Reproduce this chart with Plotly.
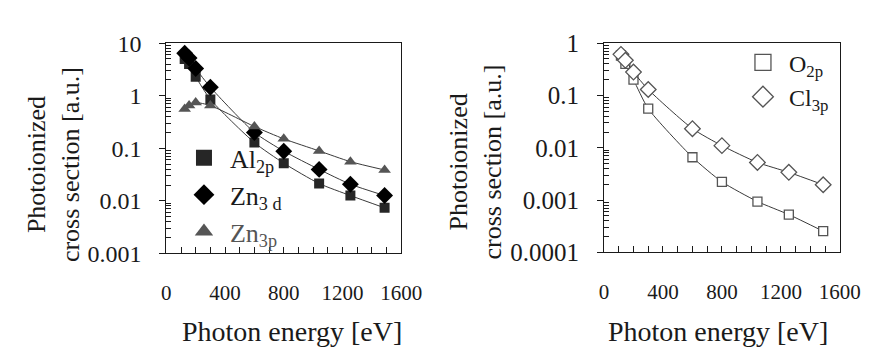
import plotly.graph_objects as go

# ---- data ----
energy_left = [125, 155, 200, 300, 600, 800, 1041, 1254, 1487]
al_2p = [5.0, 4.0, 2.3, 0.85, 0.128, 0.052, 0.0213, 0.0126, 0.00735]
zn_3d = [6.4, 5.2, 3.3, 1.45, 0.2, 0.088, 0.0396, 0.0207, 0.0126]
zn_3p = [0.56, 0.65, 0.74, 0.65, 0.259, 0.151, 0.089, 0.0556, 0.0386]

energy_right = [115, 145, 200, 300, 600, 800, 1041, 1254, 1487]
o_2p = [0.58, 0.40, 0.20, 0.056, 0.0066, 0.00224, 0.00094, 0.00053, 0.000255]
cl_3p = [0.61, 0.47, 0.28, 0.13, 0.0232, 0.011, 0.00525, 0.0034, 0.00197]

x_ticks = [0, 400, 800, 1200, 1600]
y_ticks_left = [0.001, 0.01, 0.1, 1, 10]
y_ticks_right = [0.0001, 0.001, 0.01, 0.1, 1]

FONT = "Liberation Serif, Times New Roman, DejaVu Serif, serif"
INK = "#1a1a1a"
LINE = "#3a3a3a"

fig = go.Figure()

def add(x, y, name, symbol, size, color, xa, ya, legend, open_=False):
    def mk(sz):
        if open_:
            return dict(symbol=symbol, size=sz, color="white",
                        line=dict(color="#555555", width=1.3))
        return dict(symbol=symbol, size=sz, color=color, line=dict(color=color, width=0))
    fig.add_trace(go.Scatter(
        x=x, y=y, mode="lines+markers", showlegend=False,
        line=dict(color=LINE, width=1, shape="spline", smoothing=0.6),
        marker=mk(size), xaxis=xa, yaxis=ya))
    # legend entry (larger symbol, no line)
    fig.add_trace(go.Scatter(
        x=[None], y=[None], name=name, mode="markers", marker=mk(16),
        xaxis=xa, yaxis=ya, legend=legend))

add(energy_left, al_2p, "Al<sub>2p</sub>", "square", 10, "#262626", "x", "y", "legend")
add(energy_left, zn_3d, "Zn<sub>3 d</sub>", "diamond", 13, "#000000", "x", "y", "legend")
add(energy_left, zn_3p, '<span style="color:#555555">Zn<sub>3p</sub></span>',
    "triangle-up", 11, "#555555", "x", "y", "legend")

add(energy_right, o_2p, "O<sub>2p</sub>", "square", 9, "#555555", "x2", "y2", "legend2", open_=True)
add(energy_right, cl_3p, "Cl<sub>3p</sub>", "diamond", 12, "#555555", "x2", "y2", "legend2", open_=True)

W, H = 880, 347
def px_x(p): return p / W
def px_y(p): return 1 - p / H

def minor_vals(lo, hi):
    vals = []
    for e in range(lo, hi):
        for d in range(2, 10):
            vals.append(d * 10.0 ** e)
    return vals

xaxis_common = dict(
    range=[0, 1600], tickvals=x_ticks, ticktext=[str(v) for v in x_ticks],
    ticks="inside", ticklen=6, tickcolor=INK, tickwidth=1,
    minor=dict(dtick=100, tick0=0, ticks="inside", ticklen=6, tickcolor=INK, showgrid=False),
    showline=True, linecolor=INK, linewidth=1, mirror=True,
    showgrid=False, zeroline=False,
    tickfont=dict(family=FONT, size=21, color=INK),
    ticklabelstandoff=20,
)
yaxis_common = dict(
    type="log",
    ticks="outside", ticklen=6, tickcolor=INK, tickwidth=1,
    showline=True, linecolor=INK, linewidth=1, mirror=True,
    showgrid=False, zeroline=False,
    ticklabelstandoff=13,
)

fig.update_layout(
    width=W, height=H, margin=dict(l=0, r=0, t=0, b=0),
    paper_bgcolor="white", plot_bgcolor="white",
    font=dict(family=FONT, color=INK),
    xaxis=dict(domain=[px_x(158), px_x(400)], anchor="y", **xaxis_common),
    yaxis=dict(domain=[px_y(252), px_y(24)], anchor="x", range=[-3, 1],
               tickvals=y_ticks_left, ticktext=["0.001", "0.01", "0.1", "1", "10"],
               tickfont=dict(family=FONT, size=24, color=INK),
               minor=dict(tickvals=minor_vals(-3, 1), ticks="inside", ticklen=5,
                          tickcolor=INK, showgrid=False),
               **yaxis_common),
    xaxis2=dict(domain=[px_x(609), px_x(852)], anchor="y2", **xaxis_common),
    yaxis2=dict(domain=[px_y(251), px_y(24)], anchor="x2", range=[-4, 0],
                tickvals=y_ticks_right, ticktext=["0.0001", "0.001", "0.01", "0.1", "1"],
                tickfont=dict(family=FONT, size=25, color=INK),
                minor=dict(tickvals=minor_vals(-4, 0), ticks="inside", ticklen=5,
                           tickcolor=INK, showgrid=False),
                **yaxis_common),
    legend=dict(x=px_x(170), y=px_y(123), xanchor="left", yanchor="top",
                bgcolor="rgba(0,0,0,0)", font=dict(family=FONT, size=26, color=INK),
                itemwidth=42),
    legend2=dict(x=px_x(746), y=px_y(21), xanchor="left", yanchor="top",
                 bgcolor="rgba(0,0,0,0)", font=dict(family=FONT, size=24, color=INK),
                 itemwidth=42),
    showlegend=True,
)

# y titles: two lines each, placed as rotated annotations
ytitle_lines = ["Photoionized", "cross section [a.u.]"]
for (x1, x2, yc) in [(25, 60, 156), (459, 494, 153)]:
    for xc, txt in zip((x1, x2), ytitle_lines):
        fig.add_annotation(text=txt, x=px_x(xc), y=px_y(yc), xref="paper", yref="paper",
                           textangle=-90, showarrow=False, xanchor="center", yanchor="middle",
                           font=dict(family=FONT, size=26, color=INK))
for xc in [287, 726]:
    fig.add_annotation(text="Photon energy [eV]", x=px_x(xc), y=px_y(337), xref="paper",
                       yref="paper", showarrow=False, xanchor="center", yanchor="middle",
                       font=dict(family=FONT, size=28, color=INK))

fig.write_html("out.html")
